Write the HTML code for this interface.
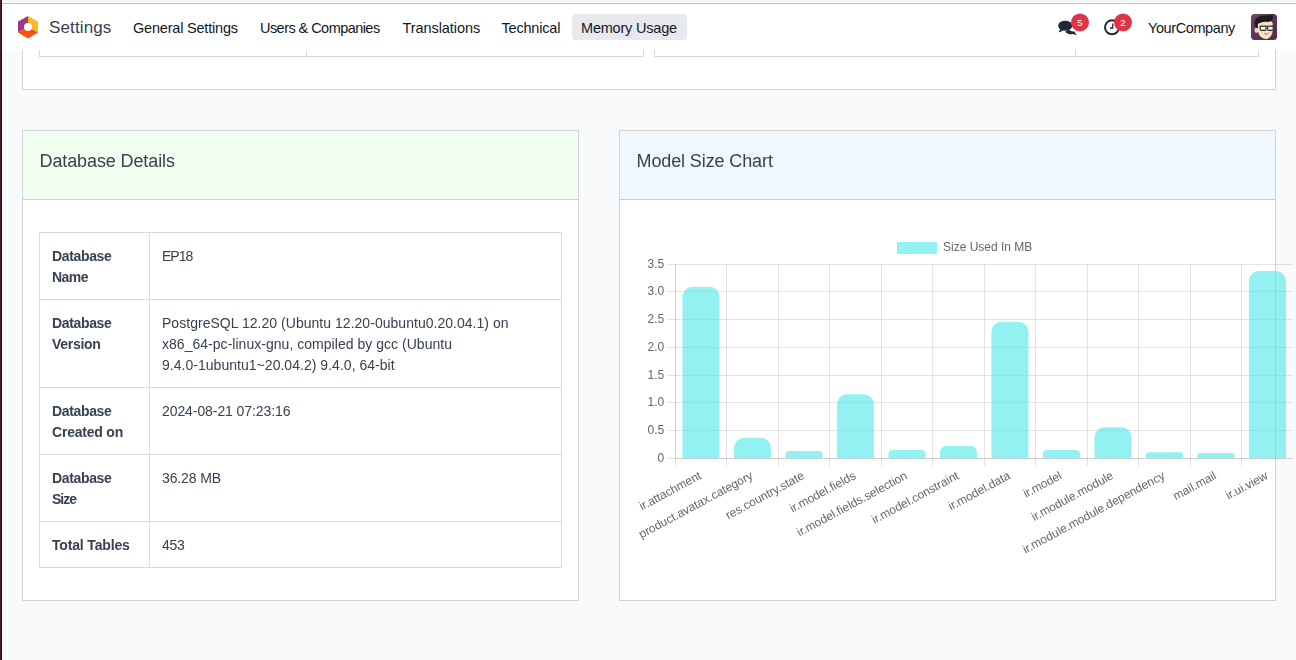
<!DOCTYPE html>
<html>
<head>
<meta charset="utf-8">
<title>Odoo - Memory Usage</title>
<style>
*{box-sizing:border-box;margin:0;padding:0}
html,body{width:1296px;height:660px;overflow:hidden}
body{background:#f9fafb;font-family:"Liberation Sans",sans-serif;font-size:14px;color:#374151;position:relative}
.abs{position:absolute}
/* desktop edges */
#edgeL{z-index:9;left:0;top:0;width:2px;height:660px;background:linear-gradient(90deg,#471d2b 0,#471d2b 1px,#300b1a 1px,#300b1a 2px)}
#edgeT{z-index:9;left:2px;top:0;width:1294px;height:4px;background:linear-gradient(180deg,#f5f5f5 0,#f5f5f5 2px,#fbfbfb 2px,#fbfbfb 3px,#c4c4c4 3px,#c4c4c4 4px)}
/* navbar */
#nav{left:2px;top:4px;width:1294px;height:46px;background:#fff}
.nv{position:absolute;top:5px;height:46px;line-height:46px;font-size:14.5px;letter-spacing:-.2px;color:#111827;white-space:nowrap}
#brand{font-size:17px;color:#374151;left:49px;letter-spacing:.13px}
#pill{left:572px;top:14px;width:115px;height:26px;background:#e7e9ed;border-radius:4px}
.badge{position:absolute;width:18px;height:18px;border-radius:9px;background:#dc3545;color:#fff;font-size:9.5px;line-height:18px;text-align:center}
/* cards */
.card{position:absolute;will-change:transform;background:#fff;border:1px solid #d3d3d3}
.hd{position:absolute;left:0;top:0;right:0;height:69px;border-bottom:1px solid rgba(0,0,0,.175);background-clip:border-box}
.ttl{position:absolute;left:16.5px;top:18px;font-size:18px;line-height:24px;letter-spacing:-.11px;color:#3a424e;white-space:nowrap}
table{border-collapse:collapse;position:absolute}
td{border:1px solid #d8dadd;padding:13px 12px 11px;vertical-align:top;line-height:21px;font-size:14px;color:#374151}
td.k{font-weight:bold;width:110px}
s{text-decoration:none;display:inline-block;white-space:nowrap}
.tb{position:absolute;border:1px solid #d8dadd;border-top:0}
</style>
</head>
<body>
<div id="edgeL" class="abs"></div>
<div id="edgeT" class="abs"></div>

<!-- top card (scrolled, partially hidden) -->
<div class="card" style="will-change:auto;left:22px;top:-60px;width:1254px;height:150px"></div>
<div class="tb" style="left:39px;top:40px;width:605px;height:17px"></div>
<div class="abs" style="left:306px;top:40px;width:1px;height:16px;background:#d8dadd"></div>
<div class="tb" style="left:654px;top:40px;width:605px;height:17px"></div>
<div class="abs" style="left:1075px;top:40px;width:1px;height:16px;background:#d8dadd"></div>

<!-- navbar -->
<div id="nav" class="abs"></div>
<svg class="abs" style="left:17px;top:15px" width="22" height="24" viewBox="0 0 22 24">
  <polygon points="11,1 11,12 1,17.6 1,6.6" fill="#9c3a84"/>
  <polygon points="11,1 21,6.6 21,17.6 11,12" fill="#fbb92a"/>
  <polygon points="1,17.6 11,12 21,17.6 11,23.4" fill="#fc4f0c"/>
  <circle cx="11" cy="12" r="4" fill="#fff"/>
</svg>
<div id="brand" class="nv">Settings</div>
<div class="nv" style="left:133px">General Settings</div>
<div class="nv" style="left:260px;letter-spacing:-.55px">Users &amp; Companies</div>
<div class="nv" style="left:402.5px;letter-spacing:-.07px">Translations</div>
<div class="nv" style="left:501.5px">Technical</div>
<div id="pill" class="abs"></div>
<div class="nv" style="left:581px">Memory Usage</div>

<!-- chat icon -->
<svg class="abs" style="left:1057px;top:19px" width="21" height="18" viewBox="0 0 21 18">
  <path d="M12 10.6 C13.4 12.4 15.8 12.8 17.2 12.2 L19.8 16.2 L16 14.9 C13 15.8 9.6 15 8.2 12.6 Z" fill="#1f2937"/>
  <ellipse cx="8.2" cy="6.8" rx="7" ry="5" fill="#1f2937"/>
  <path d="M3.2 9.8 L1.6 13.6 L6.4 11.4 Z" fill="#1f2937"/>
</svg>
<svg class="abs" style="left:1070px;top:12px" width="20" height="21" viewBox="0 0 20 21"><circle cx="10" cy="10.4" r="9" fill="#dc3545"/><text x="10" y="13.8" font-size="9.5" fill="#fff" text-anchor="middle" font-family="'Liberation Sans',sans-serif">5</text></svg>
<!-- clock icon -->
<svg class="abs" style="left:1103px;top:18px" width="18" height="18" viewBox="0 0 18 18">
  <circle cx="9" cy="9.3" r="7" fill="none" stroke="#1f2937" stroke-width="2"/>
  <path d="M9.8 5.6 V10 H7" fill="none" stroke="#1f2937" stroke-width="1.3"/>
</svg>
<svg class="abs" style="left:1113px;top:12px" width="20" height="21" viewBox="0 0 20 21"><circle cx="10" cy="10.4" r="9" fill="#dc3545"/><text x="10" y="13.8" font-size="9.5" fill="#fff" text-anchor="middle" font-family="'Liberation Sans',sans-serif">2</text></svg>
<div class="nv" style="left:1148px;letter-spacing:-.4px">YourCompany</div>
<!-- avatar -->
<svg class="abs" style="left:1251px;top:14px" width="26" height="26" viewBox="0 0 26 26">
  <defs><clipPath id="av"><rect width="26" height="26" rx="3.5"/></clipPath>
  <linearGradient id="avg" x1="0" y1="0" x2="1" y2="1"><stop offset="0" stop-color="#6d4266"/><stop offset="1" stop-color="#542a49"/></linearGradient></defs>
  <g clip-path="url(#av)">
    <rect width="26" height="26" fill="url(#avg)"/>
    <ellipse cx="5.4" cy="16.2" rx="1.9" ry="2.7" fill="#f2d2b6"/>
    <path d="M6.6 9 C8 6 20 5 21.6 9 L21.8 15.5 C21.6 21 18.5 25 15 25 C11 25 7.2 21.5 6.6 15.5 Z" fill="#f9e0c8"/>
    <path d="M6.8 14.5 L6.9 10 C9 8.6 13 7 17 8 C19.5 7.6 21 6.4 21.6 4.6 C22.4 3 21.6 1.4 21.8 .4 C20 1.6 17 1.4 14 1.6 C8.5 1.4 3.4 4.4 3.4 9 C3.4 11 4.2 12.6 5 13.4 Z" fill="#1e1b1f"/>
    <path d="M8.6 12.2 H22.4" stroke="#2a2728" stroke-width="1.1"/>
    <rect x="9.2" y="12.2" width="5.8" height="4.2" rx=".9" fill="#eef0f0" stroke="#2e2b2c" stroke-width="1.1"/>
    <rect x="16.6" y="12.2" width="5.6" height="4.2" rx=".9" fill="#eef0f0" stroke="#2e2b2c" stroke-width="1.1"/>
    <path d="M12.8 19 C14.6 19.6 16.8 19.4 18.4 18.6 C17.8 20.6 14.4 21.4 12.8 19 Z" fill="#8a3a44"/>
    <path d="M13.4 19.2 C15 19.6 16.6 19.4 17.8 18.9 L17.4 19.7 C16 20.2 14.6 20.2 13.8 19.8 Z" fill="#f4eeee"/>
  </g>
</svg>

<!-- Database Details card -->
<div class="card" style="left:22px;top:130px;width:557px;height:471px">
  <div class="hd" style="background:#f0fff0"><div class="ttl">Database Details</div></div>
  <table style="left:16px;top:101px;width:523px">
    <tr><td class="k"><s style="letter-spacing:-.35px">Database</s><br><s style="letter-spacing:-.54px">Name</s></td><td><s style="letter-spacing:-.98px">EP18</s></td></tr>
    <tr><td class="k"><s style="letter-spacing:-.35px">Database</s><br><s style="letter-spacing:-.3px">Version</s></td><td style="letter-spacing:.03px">PostgreSQL 12.20 (Ubuntu 12.20-0ubuntu0.20.04.1) on<br>x86_64-pc-linux-gnu, compiled by gcc (Ubuntu<br>9.4.0-1ubuntu1~20.04.2) 9.4.0, 64-bit</td></tr>
    <tr><td class="k"><s style="letter-spacing:-.35px">Database</s><br><s style="letter-spacing:-.21px">Created on</s></td><td><s style="letter-spacing:-.08px">2024-08-21 07:23:16</s></td></tr>
    <tr><td class="k"><s style="letter-spacing:-.35px">Database</s><br><s style="letter-spacing:-.97px">Size</s></td><td><s style="letter-spacing:-.12px">36.28 MB</s></td></tr>
    <tr><td class="k"><s style="letter-spacing:-.16px">Total Tables</s></td><td><s style="letter-spacing:-.23px">453</s></td></tr>
  </table>
</div>

<!-- Model Size Chart card -->
<div class="card" style="left:619px;top:130px;width:657px;height:471px">
  <div class="hd" style="background:#f0f8ff"><div class="ttl">Model Size Chart</div></div>
</div>

<!-- CHART -->
<svg id="chart" class="abs" style="left:636px;top:232px;will-change:transform" width="660" height="340" viewBox="636 232 660 340" font-family="'Liberation Sans',sans-serif" font-size="12" fill="#666">
<rect x="667" y="264" width="626" height="1" fill="#000" fill-opacity=".1"/>
<rect x="667" y="291" width="626" height="1" fill="#000" fill-opacity=".1"/>
<rect x="667" y="319" width="626" height="1" fill="#000" fill-opacity=".1"/>
<rect x="667" y="347" width="626" height="1" fill="#000" fill-opacity=".1"/>
<rect x="667" y="375" width="626" height="1" fill="#000" fill-opacity=".1"/>
<rect x="667" y="402" width="626" height="1" fill="#000" fill-opacity=".1"/>
<rect x="667" y="430" width="626" height="1" fill="#000" fill-opacity=".1"/>
<rect x="667" y="458" width="626" height="1" fill="#000" fill-opacity=".1"/>
<rect x="675" y="264" width="1" height="202" fill="#000" fill-opacity=".1"/>
<rect x="726" y="264" width="1" height="202" fill="#000" fill-opacity=".1"/>
<rect x="778" y="264" width="1" height="202" fill="#000" fill-opacity=".1"/>
<rect x="829" y="264" width="1" height="202" fill="#000" fill-opacity=".1"/>
<rect x="881" y="264" width="1" height="202" fill="#000" fill-opacity=".1"/>
<rect x="932" y="264" width="1" height="202" fill="#000" fill-opacity=".1"/>
<rect x="984" y="264" width="1" height="202" fill="#000" fill-opacity=".1"/>
<rect x="1035" y="264" width="1" height="202" fill="#000" fill-opacity=".1"/>
<rect x="1087" y="264" width="1" height="202" fill="#000" fill-opacity=".1"/>
<rect x="1138" y="264" width="1" height="202" fill="#000" fill-opacity=".1"/>
<rect x="1190" y="264" width="1" height="202" fill="#000" fill-opacity=".1"/>
<rect x="1241" y="264" width="1" height="202" fill="#000" fill-opacity=".1"/>
<rect x="675" y="264" width="1" height="194" fill="#000" fill-opacity=".1"/>
<rect x="675" y="458" width="618" height="1" fill="#000" fill-opacity=".1"/>
<path d="M682.43 458.20V296.70A10.00 10.00 0 0 1 692.43 286.70H709.48A10.00 10.00 0 0 1 719.48 296.70V458.20Z" fill="#4de8e8" fill-opacity=".6"/>
<path d="M733.93 458.20V447.80A10.00 10.00 0 0 1 743.93 437.80H760.98A10.00 10.00 0 0 1 770.98 447.80V458.20Z" fill="#4de8e8" fill-opacity=".6"/>
<path d="M785.43 458.20V454.55A3.65 3.65 0 0 1 789.08 450.90H818.83A3.65 3.65 0 0 1 822.48 454.55V458.20Z" fill="#4de8e8" fill-opacity=".6"/>
<path d="M836.93 458.20V404.20A10.00 10.00 0 0 1 846.93 394.20H863.98A10.00 10.00 0 0 1 873.98 404.20V458.20Z" fill="#4de8e8" fill-opacity=".6"/>
<path d="M888.43 458.20V454.10A4.10 4.10 0 0 1 892.53 450.00H921.38A4.10 4.10 0 0 1 925.48 454.10V458.20Z" fill="#4de8e8" fill-opacity=".6"/>
<path d="M939.93 458.20V452.10A6.10 6.10 0 0 1 946.03 446.00H970.88A6.10 6.10 0 0 1 976.98 452.10V458.20Z" fill="#4de8e8" fill-opacity=".6"/>
<path d="M991.43 458.20V331.70A10.00 10.00 0 0 1 1001.43 321.70H1018.48A10.00 10.00 0 0 1 1028.48 331.70V458.20Z" fill="#4de8e8" fill-opacity=".6"/>
<path d="M1042.92 458.20V454.10A4.10 4.10 0 0 1 1047.02 450.00H1075.88A4.10 4.10 0 0 1 1079.98 454.10V458.20Z" fill="#4de8e8" fill-opacity=".6"/>
<path d="M1094.42 458.20V437.20A10.00 10.00 0 0 1 1104.42 427.20H1121.48A10.00 10.00 0 0 1 1131.48 437.20V458.20Z" fill="#4de8e8" fill-opacity=".6"/>
<path d="M1145.92 458.20V455.20A3.00 3.00 0 0 1 1148.92 452.20H1179.98A3.00 3.00 0 0 1 1182.98 455.20V458.20Z" fill="#4de8e8" fill-opacity=".6"/>
<path d="M1197.42 458.20V455.60A2.60 2.60 0 0 1 1200.02 453.00H1231.88A2.60 2.60 0 0 1 1234.48 455.60V458.20Z" fill="#4de8e8" fill-opacity=".6"/>
<path d="M1248.92 458.20V281.00A10.00 10.00 0 0 1 1258.92 271.00H1275.98A10.00 10.00 0 0 1 1285.98 281.00V458.20Z" fill="#4de8e8" fill-opacity=".6"/>
<text x="664.2" y="267.6" text-anchor="end">3.5</text>
<text x="664.2" y="295.3" text-anchor="end">3.0</text>
<text x="664.2" y="323.0" text-anchor="end">2.5</text>
<text x="664.2" y="350.7" text-anchor="end">2.0</text>
<text x="664.2" y="378.5" text-anchor="end">1.5</text>
<text x="664.2" y="406.2" text-anchor="end">1.0</text>
<text x="664.2" y="433.9" text-anchor="end">0.5</text>
<text x="664.2" y="461.6" text-anchor="end">0</text>
<text transform="translate(700.15 474.34) rotate(-28.3)" x="0" y="4.3" text-anchor="end" letter-spacing="-.03">ir.attachment</text>
<text transform="translate(751.65 474.34) rotate(-28.3)" x="0" y="4.3" text-anchor="end" letter-spacing="-.03">product.avatax.category</text>
<text transform="translate(803.15 474.34) rotate(-28.3)" x="0" y="4.3" text-anchor="end" letter-spacing="-.03">res.country.state</text>
<text transform="translate(854.65 474.34) rotate(-28.3)" x="0" y="4.3" text-anchor="end" letter-spacing="-.03">ir.model.fields</text>
<text transform="translate(906.15 474.34) rotate(-28.3)" x="0" y="4.3" text-anchor="end" letter-spacing="-.03">ir.model.fields.selection</text>
<text transform="translate(957.65 474.34) rotate(-28.3)" x="0" y="4.3" text-anchor="end" letter-spacing="-.03">ir.model.constraint</text>
<text transform="translate(1009.15 474.34) rotate(-28.3)" x="0" y="4.3" text-anchor="end" letter-spacing="-.03">ir.model.data</text>
<text transform="translate(1060.65 474.34) rotate(-28.3)" x="0" y="4.3" text-anchor="end" letter-spacing="-.03">ir.model</text>
<text transform="translate(1112.15 474.34) rotate(-28.3)" x="0" y="4.3" text-anchor="end" letter-spacing="-.03">ir.module.module</text>
<text transform="translate(1163.65 474.34) rotate(-28.3)" x="0" y="4.3" text-anchor="end" letter-spacing="-.03">ir.module.module.dependency</text>
<text transform="translate(1215.15 474.34) rotate(-28.3)" x="0" y="4.3" text-anchor="end" letter-spacing="-.03">mail.mail</text>
<text transform="translate(1266.65 474.34) rotate(-28.3)" x="0" y="4.3" text-anchor="end" letter-spacing="-.03">ir.ui.view</text>
<rect x="897" y="242" width="40" height="12" fill="#4de8e8" fill-opacity=".6"/>
<text x="943" y="251.3">Size Used In MB</text>
</svg>
</body>
</html>
